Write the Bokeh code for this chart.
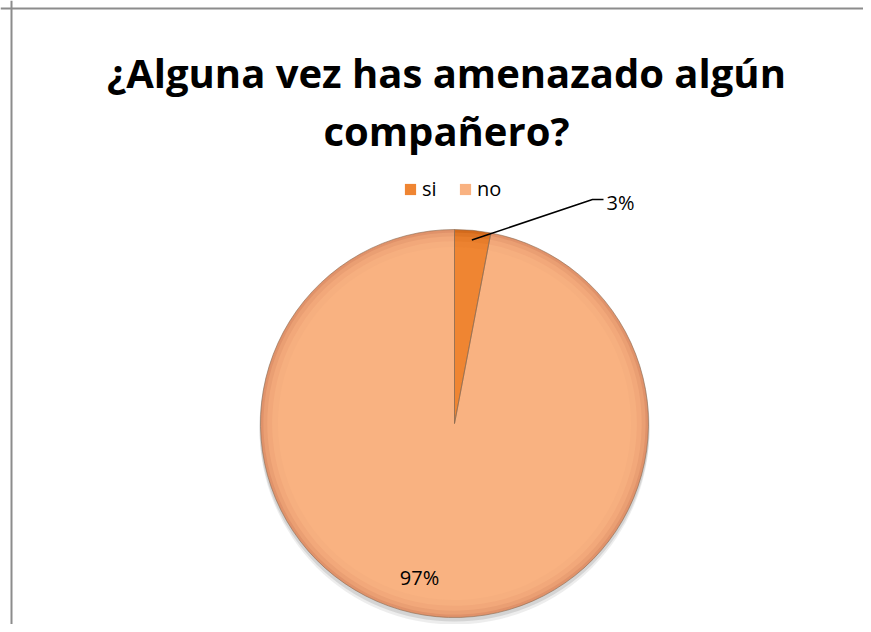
import math
from bokeh.plotting import figure
from bokeh.models import Range1d, ColumnDataSource, Legend, LegendItem, Span
from bokeh.core.properties import value
from bokeh.embed import file_html
from bokeh.resources import INLINE

# ---- data ----
categories = ["si", "no"]
values = [3, 97]
labels = ["3%", "97%"]
colors = ["#EF8532", "#F9B281"]
rim_colors = ["#D36A1C", "#E0926A"]
title_lines = ["¿Alguna vez has amenazado algún", "compañero?"]

# ---- figure (1 data unit = 1 px, y measured upward from the bottom) ----
W, H = 863, 624
p = figure(width=W, height=H, x_range=Range1d(0, W), y_range=Range1d(0, H),
           output_backend="svg", toolbar_location=None, min_border=0)
p.axis.visible = False
p.grid.visible = False
p.outline_line_color = None
p.background_fill_color = "white"
p.border_fill_color = "white"

# chart-area border (only top and left are visible in the reference)
p.add_layout(Span(location=11, dimension="height", line_color="#8C8C8C", line_width=2))
p.add_layout(Span(location=H - 8, dimension="width", line_color="#8C8C8C", line_width=2))

cx, cy, r = 454, 201, 194

total = float(sum(values))
cum = [0.0]
for v in values:
    cum.append(cum[-1] + v / total)
starts = [math.pi / 2 - 2 * math.pi * cum[i + 1] for i in range(len(values))]
ends = [math.pi / 2 - 2 * math.pi * cum[i] for i in range(len(values))]
mids = [(s + e) / 2 for s, e in zip(starts, ends)]

def blend(c1, c2, t):
    a = [int(c1[i:i + 2], 16) for i in (1, 3, 5)]
    b = [int(c2[i:i + 2], 16) for i in (1, 3, 5)]
    return "#%02x%02x%02x" % tuple(round(a[k] + (b[k] - a[k]) * t) for k in range(3))

# shadow
p.circle(x=[cx], y=[cy - 6], radius=r + 1, fill_color="#9a9a9a", fill_alpha=0.18, line_color=None)
p.circle(x=[cx], y=[cy - 3], radius=r + 1, fill_color="#8a8a8a", fill_alpha=0.25, line_color=None)

# gradient layers (rim darker -> center lighter)
steps = [(1.0, 0.0), (0.985, 0.4), (0.965, 0.7), (0.94, 0.9), (0.91, 1.0)]
for f, t in steps:
    src = ColumnDataSource(dict(
        cat=categories, start=starts, end=ends,
        color=[blend(rc, c, t) for rc, c in zip(rim_colors, colors)]))
    p.wedge(x=cx, y=cy, radius=r * f, start_angle="start", end_angle="end",
            fill_color="color", line_color=None, source=src)

# slice edges
edge_src = ColumnDataSource(dict(start=starts, end=ends))
p.wedge(x=cx, y=cy, radius=r, start_angle="start", end_angle="end",
        fill_color=None, line_color="#8a6a52", line_alpha=0.6, line_width=1, source=edge_src)

# legend
leg_src = ColumnDataSource(dict(cat=categories, color=colors, start=starts, end=ends))
leg_r = p.wedge(x=cx, y=cy, radius=0, start_angle="start", end_angle="end",
                fill_color="color", line_color=None, source=leg_src)
legend = Legend(items=[LegendItem(label=c, renderers=[leg_r], index=i) for i, c in enumerate(categories)],
                orientation="horizontal", location=(403, 422),
                glyph_width=14, glyph_height=14, label_standoff=5, spacing=16,
                padding=0, margin=0, border_line_color=None, background_fill_alpha=0,
                label_text_font="Open Sans", label_text_font_size="20px", label_text_color="#000000")
p.add_layout(legend)

# leader line for the small slice
m0 = mids[0]
x0, y0 = cx + r * 0.95 * math.cos(m0), cy + r * 0.95 * math.sin(m0)
p.line(x=[x0, 592, 603], y=[y0, 425, 425], line_color="black", line_width=1.5)

# data labels
p.text(x=[606], y=[422], text=[labels[0]], text_font=value("Open Sans"), text_font_size="20px",
       text_align="left", text_baseline="alphabetic", text_color="black")
p.text(x=[419], y=[47], text=[labels[1]], text_font=value("Open Sans"), text_font_size="20px",
       text_align="center", text_baseline="alphabetic", text_color="black")

# title
p.text(x=[446, 446], y=[552, 494], text=title_lines, text_font=value("Open Sans"),
       text_font_size="40px", text_font_style="bold", text_align="center",
       text_baseline="alphabetic", text_color="black")

open("out.html", "w").write(file_html(p, INLINE))
